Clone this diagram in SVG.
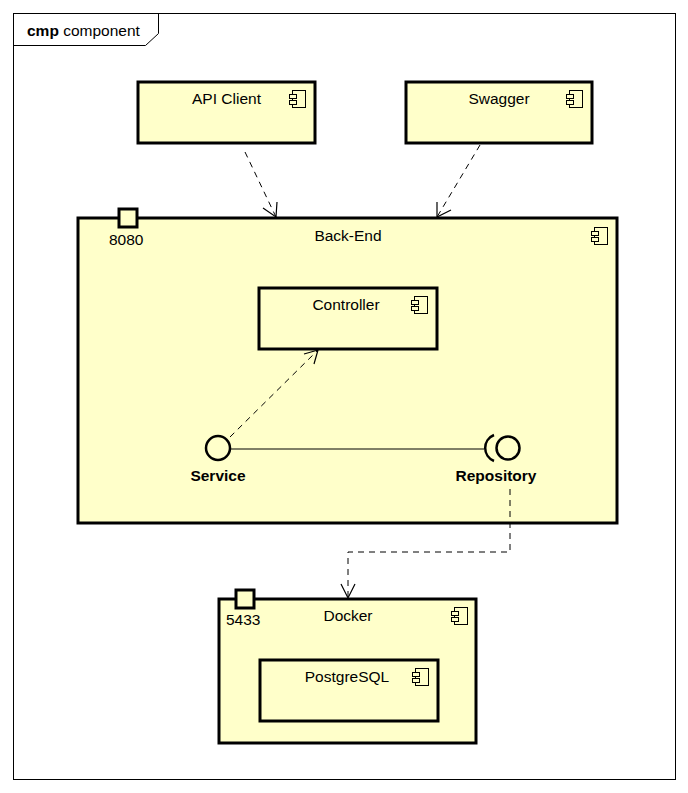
<svg xmlns="http://www.w3.org/2000/svg" width="688" height="793" viewBox="0 0 688 793">
<style>
.box{fill:#FFFFCA;stroke:#000;stroke-width:3}
.port{fill:#FFFFCA;stroke:#000;stroke-width:3}
.t{font-family:"Liberation Sans",Arial,sans-serif;font-size:15.5px;fill:#000}
.b{font-family:"Liberation Sans",Arial,sans-serif;font-size:15.5px;font-weight:bold;fill:#000}
.ic{fill:#FFFFCA;stroke:#000;stroke-width:1}
.dash{fill:none;stroke:#000;stroke-width:1;stroke-dasharray:6,5}
.ah{fill:none;stroke:#000;stroke-width:1.2}
</style>
<defs>
<g id="icon">
<rect class="ic" x="3.5" y="0.5" width="13" height="17"/>
<rect class="ic" x="0.5" y="4.5" width="7" height="4"/>
<rect class="ic" x="0.5" y="10.5" width="7" height="4"/>
</g>
</defs>
<rect width="688" height="793" fill="#fff"/>
<g id="frame">
<rect x="13.5" y="13.5" width="662" height="766" fill="none" stroke="#000" stroke-width="1"/>
<path d="M13.5 45.5 H145.5 L158.5 33.5 V13.5" fill="none" stroke="#000" stroke-width="1"/>
<text x="27" y="36" class="t"><tspan font-weight="bold">cmp</tspan> component</text>
</g>
<g id="api-client">
<rect class="box" x="138" y="82" width="177" height="61"/>
<text x="226.5" y="104" class="t" text-anchor="middle">API Client</text>
<use href="#icon" x="289" y="90"/>
</g>
<g id="swagger">
<rect class="box" x="406" y="82" width="186" height="61"/>
<text x="499" y="104" class="t" text-anchor="middle">Swagger</text>
<use href="#icon" x="566" y="90"/>
</g>
<g id="back-end">
<rect class="box" x="78" y="218" width="539" height="305"/>
<text x="348" y="241" class="t" text-anchor="middle">Back-End</text>
<use href="#icon" x="591" y="227"/>
<rect class="port" x="119" y="209" width="18" height="18"/>
<text x="109" y="245" class="t">8080</text>
</g>
<g id="controller">
<rect class="box" x="259" y="288" width="178" height="61"/>
<text x="346" y="310" class="t" text-anchor="middle">Controller</text>
<use href="#icon" x="411" y="296"/>
</g>
<g id="service">
<circle cx="218" cy="448" r="12" fill="#FFFFCA" stroke="#000" stroke-width="2.5"/>
<text x="218" y="481" class="b" text-anchor="middle">Service</text>
</g>
<g id="repository">
<circle cx="508" cy="448" r="11.5" fill="#FFFFCA" stroke="#000" stroke-width="2.5"/>
<path d="M494 435 A14 14 0 0 0 494 461" fill="none" stroke="#000" stroke-width="2.5"/>
<text x="496" y="481" class="b" text-anchor="middle">Repository</text>
</g>
<g id="docker">
<rect class="box" x="219" y="599" width="257" height="144"/>
<text x="348" y="621" class="t" text-anchor="middle">Docker</text>
<use href="#icon" x="451" y="607"/>
<rect class="port" x="236" y="590" width="18" height="18"/>
<text x="226" y="625" class="t">5433</text>
</g>
<g id="postgresql">
<rect class="box" x="260" y="660" width="178" height="61"/>
<text x="347" y="682" class="t" text-anchor="middle">PostgreSQL</text>
<use href="#icon" x="412" y="668"/>
</g>
<g id="connectors">
<path class="dash" d="M245 152 L276 217"/>
<path class="ah" d="M263 208 L276 217 L277 202"/>
<path class="dash" d="M480 145 L437 217"/>
<path class="ah" d="M437 202 L437 217 L451 210"/>
<path class="dash" d="M230 437 L318 350"/>
<path class="ah" d="M304 354 L318 350 L314 364"/>
<path d="M230 449 H484" fill="none" stroke="#000" stroke-width="1"/>
<path class="dash" d="M510 489 V552 H348 V598"/>
<path class="ah" d="M341 584 L348 598 L355 584"/>
</g>
</svg>
